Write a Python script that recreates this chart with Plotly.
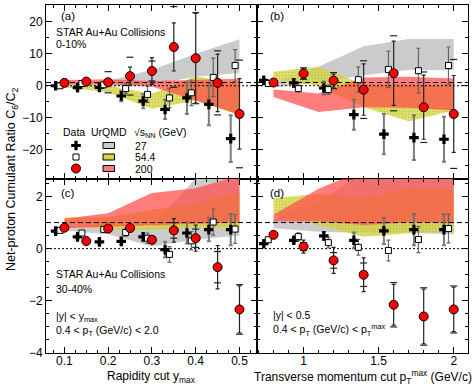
import plotly.graph_objects as go
from plotly.subplots import make_subplots

# rapidity cut (panels a, c) and pT max cut (panels b, d)
ymax = [0.1, 0.15, 0.2, 0.25, 0.3, 0.35, 0.4, 0.45, 0.5]
ptmax = [0.8, 1.0, 1.2, 1.4, 1.6, 1.8, 2.0]

# panel (a): 0-10%, C6/C2 vs y_max
a_27 = [0.0, -0.6, -0.5, -3.2, -4.8, -7.4, -3.8, -5.8, -16.5]
a_27_err = [0.4, 0.6, 0.9, 1.6, 2.2, 3.0, 5.0, 6.5, 7.3]
a_54 = [0.0, 0.7, 0.3, -0.9, -2.7, -3.8, -2.2, 2.6, 6.3]
a_54_err = [0.4, 0.6, 0.9, 1.5, 2.5, 3.0, 4.0, 6.0, 5.0]
a_200 = [0.9, 1.3, 1.1, 3.0, 4.6, 12.1, 8.6, 0.9, -8.8]
a_200_err = [0.4, 0.7, 1.0, 2.8, 4.2, 7.5, 14.0, 9.0, 11.0]
a_200_sys = [0.3, 0.6, 3.3, 5.9, 3.1, 12.6, 14.2, 10.0, 16.8]

# panel (b): 0-10%, C6/C2 vs pT max
b_27 = [1.7, 0.9, -0.7, -9.0, -15.1, -16.2, -16.7]
b_27_err = [0.5, 1.2, 2.0, 4.7, 6.3, 7.0, 7.0]
b_54 = [0.7, -0.9, -1.2, 1.9, 5.1, 4.7, 6.3]
b_54_err = [0.4, 1.0, 1.5, 4.0, 5.7, 7.0, 5.8]
b_200 = [1.0, 3.8, 1.6, -1.2, 3.9, -6.7, -8.8]
b_200_err = [0.5, 1.5, 2.0, 8.0, 10.0, 10.0, 12.0]
b_200_sys = [0.3, 1.8, 2.5, 9.0, 11.7, 11.0, 17.0]

# panel (c): 30-40%
c_27 = [0.67, 0.45, 0.26, 0.28, 0.45, -0.04, 0.6, 0.73, 0.73]
c_27_err = [0.05, 0.07, 0.1, 0.12, 0.15, 0.3, 0.4, 0.45, 0.6]
c_54 = [0.7, 0.6, 0.74, 0.62, 0.4, -0.22, 0.3, 1.02, 0.75]
c_54_err = [0.05, 0.08, 0.1, 0.15, 0.2, 0.3, 0.35, 0.5, 0.55]
c_200 = [0.8, 0.29, 0.77, 0.79, 0.34, 0.7, 0.4, -0.71, -2.33]
c_200_err = [0.05, 0.08, 0.1, 0.12, 0.15, 0.45, 0.5, 0.83, 0.9]
c_200_sys = [0.03, 0.05, 0.08, 0.1, 0.12, 0.3, 0.35, 0.6, 0.95]

# panel (d): 30-40%
d_27 = [0.19, 0.32, 0.49, 0.32, 0.68, 0.73, 0.73]
d_27_err = [0.05, 0.1, 0.15, 0.3, 0.5, 0.6, 0.6]
d_54 = [0.34, 0.46, 0.23, 0.05, -0.07, 0.35, 0.77]
d_54_err = [0.05, 0.15, 0.2, 0.3, 0.4, 0.5, 0.55]
d_200 = [0.53, 0.08, -0.45, -1.0, -2.15, -2.6, -2.33]
d_200_err = [0.05, 0.25, 0.5, 0.65, 0.78, 1.05, 0.85]
d_200_sys = [0.03, 0.15, 0.3, 0.45, 0.85, 1.1, 0.9]

# UrQMD bands
band_y = [0.1, 0.2, 0.3, 0.4, 0.5]
band_pt = [0.8, 1.1, 1.4, 1.7, 2.0]

a_u27_lo = [-0.3, -0.3, 0.3, 2.8, 4.0]
a_u27_hi = [0.5, 1.5, 5.0, 10.0, 14.5]
a_u54_lo = [-0.5, -2.0, -7.2, -4.6, -9.2]
a_u54_hi = [0.3, 0.0, -2.5, 3.0, 0.3]
a_u200_lo = [0.5, 0.5, -0.2, -4.6, -9.0]
a_u200_hi = [1.8, 2.0, 1.5, 1.8, 2.2]

b_u27_lo = [-0.5, 1.0, 3.3, 4.9, 4.8]
b_u27_hi = [1.0, 5.9, 12.3, 14.6, 14.6]
b_u54_lo = [1.7, 0.1, -6.7, -11.1, -7.7]
b_u54_hi = [4.4, 5.9, 0.5, 0.3, 0.3]
b_u200_lo = [-3.5, -8.2, -6.7, -6.9, -7.7]
b_u200_hi = [-1.2, -2.4, 2.6, 2.8, 2.3]

c_u27_lo = [0.7, 0.55, 0.08, 0.35, 0.5]
c_u27_hi = [0.9, 0.85, 0.85, 2.7, 3.0]
c_u54_lo = [0.95, 0.72, 0.72, 0.8, 0.8]
c_u54_hi = [1.2, 1.2, 1.49, 1.74, 2.19]
c_u200_lo = [0.78, 0.85, 0.9, 0.95, 1.0]
c_u200_hi = [1.15, 1.36, 2.13, 2.32, 2.8]

d_u27_lo = [0.78, 0.65, 0.6, 0.6, 0.55]
d_u27_hi = [1.1, 1.8, 2.9, 2.9, 2.9]
d_u54_lo = [1.29, 0.9, 0.46, 0.59, 0.65]
d_u54_hi = [1.93, 2.1, 1.93, 2.32, 2.25]
d_u200_lo = [1.04, 1.04, 0.91, 1.0, 0.97]
d_u200_hi = [1.3, 2.3, 3.0, 3.0, 3.0]

energies = ['27', '54.4', '200']

W, H = 474, 386
ML, MR, MT, MB = 46, 6, 5, 33
XR_Y = [0.058, 0.54]
XR_PT = [0.69, 2.095]
YR_TOP = [-29.1, 25.2]
YR_BOT = [-4, 2.67]
FONT = 'Liberation Sans, Arial, Helvetica, sans-serif'

GRAY = 'rgba(200,200,200,0.95)'
YEL_BG = 'rgba(215,215,70,0.78)'
YEL_FG = 'rgba(175,175,30,0.9)'
RED = 'rgba(255,75,70,0.72)'

fig = make_subplots(rows=2, cols=2, shared_xaxes=True, shared_yaxes=True,
                    horizontal_spacing=0, vertical_spacing=0)


def band(x, lo, hi, kind, row, col):
    xs = list(x) + list(x)[::-1]
    ys = list(hi) + list(lo)[::-1]
    kw = dict(x=xs, y=ys, fill='toself', mode='lines', line=dict(width=0),
              showlegend=False, hoverinfo='skip')
    if kind == 'gray':
        kw['fillcolor'] = GRAY
    elif kind == 'yellow':
        kw['fillcolor'] = YEL_BG
        kw['fillpattern'] = dict(shape='.', fgcolor=YEL_FG, bgcolor=YEL_BG, size=3, solidity=0.35)
    else:
        kw['fillcolor'] = RED
    fig.add_trace(go.Scatter(**kw), row=row, col=col)


def refline(xr, row, col):
    fig.add_trace(go.Scatter(x=xr, y=[0, 0], mode='lines', showlegend=False, hoverinfo='skip',
                             line=dict(color='black', width=1, dash='2px,2px')), row=row, col=col)
    fig.add_trace(go.Scatter(x=xr, y=[1, 1], mode='lines', showlegend=False, hoverinfo='skip',
                             line=dict(color='black', width=1, dash='5px,3px')), row=row, col=col)


def marker_style(kind):
    if kind == 'cross':
        return dict(symbol='cross', size=8, color='black', line=dict(width=0))
    if kind == 'square':
        return dict(symbol='square', size=6, color='white', line=dict(color='black', width=1))
    return dict(symbol='circle', size=9, color='#ff0000', line=dict(color='black', width=1))


def points(x, y, err, kind, row, col):
    if kind == 'cross':
        eb = dict(type='data', array=err, color='rgba(110,110,110,0.9)', thickness=2, width=2)
    elif kind == 'square':
        eb = dict(type='data', array=err, color='rgba(90,90,90,0.9)', thickness=1.2, width=2)
    else:
        eb = dict(type='data', array=err, color='#222222', thickness=1.2, width=2)
    fig.add_trace(go.Scatter(x=x, y=y, mode='markers', marker=marker_style(kind), error_y=eb,
                             showlegend=False), row=row, col=col)


def sys_caps(x, y, sys, row, col):
    # systematic uncertainty brackets above and below the point
    ys = [v + s for v, s in zip(y, sys)] + [v - s for v, s in zip(y, sys)]
    fig.add_trace(go.Scatter(x=list(x) * 2, y=ys, mode='markers', showlegend=False,
                             hoverinfo='skip',
                             marker=dict(symbol='line-ew', size=5,
                                         line=dict(color='#222222', width=1.2))),
                  row=row, col=col)


panels = [
    (1, 1, ymax, band_y, XR_Y, 0.02, 0.01,
     (a_27, a_27_err, a_54, a_54_err, a_200, a_200_err, a_200_sys),
     (a_u27_lo, a_u27_hi, a_u54_lo, a_u54_hi, a_u200_lo, a_u200_hi)),
    (1, 2, ptmax, band_pt, XR_PT, 0.065, 0.035,
     (b_27, b_27_err, b_54, b_54_err, b_200, b_200_err, b_200_sys),
     (b_u27_lo, b_u27_hi, b_u54_lo, b_u54_hi, b_u200_lo, b_u200_hi)),
    (2, 1, ymax, band_y, XR_Y, 0.02, 0.01,
     (c_27, c_27_err, c_54, c_54_err, c_200, c_200_err, c_200_sys),
     (c_u27_lo, c_u27_hi, c_u54_lo, c_u54_hi, c_u200_lo, c_u200_hi)),
    (2, 2, ptmax, band_pt, XR_PT, 0.065, 0.035,
     (d_27, d_27_err, d_54, d_54_err, d_200, d_200_err, d_200_sys),
     (d_u27_lo, d_u27_hi, d_u54_lo, d_u54_hi, d_u200_lo, d_u200_hi)),
]

for row, col, xv, bx, xr, off27, off54, dat, bands in panels:
    band(bx, bands[0], bands[1], 'gray', row, col)
    band(bx, bands[2], bands[3], 'yellow', row, col)
    band(bx, bands[4], bands[5], 'red', row, col)
    refline(xr, row, col)
    sys_caps(xv, dat[4], dat[6], row, col)
    points([v - off27 for v in xv], dat[0], dat[1], 'cross', row, col)
    points([v - off54 for v in xv], dat[2], dat[3], 'square', row, col)
    points(xv, dat[4], dat[5], 'circle', row, col)


def px(x):
    return (x - ML) / (W - ML - MR)


def py(y):
    return (H - MB - y) / (H - MT - MB)


def to_a(xp, yp):
    # pixel position -> data coordinates of panel (a)
    fx = (xp - ML) / ((W - ML - MR) / 2)
    fy = (yp - MT) / ((H - MT - MB) / 2)
    return (XR_Y[0] + fx * (XR_Y[1] - XR_Y[0]), YR_TOP[1] - fy * (YR_TOP[1] - YR_TOP[0]))


# legend keys in panel (a)
leg_rows = [145.5, 157, 168.5]
for kind, ypx in zip(['cross', 'square', 'circle'], leg_rows):
    lx, ly = to_a(76, ypx)
    fig.add_trace(go.Scatter(x=[lx], y=[ly], mode='markers', marker=marker_style(kind),
                             showlegend=False, hoverinfo='skip'), row=1, col=1)

box_fill = [GRAY, 'rgba(215,215,70,1)', 'rgba(250,125,120,1)']
for fc, ypx in zip(box_fill, leg_rows):
    fig.add_shape(type='rect', xref='paper', yref='paper',
                  x0=px(103), x1=px(114.5), y0=py(ypx + 3), y1=py(ypx - 3),
                  fillcolor=fc, line=dict(color='black', width=1))

ann = []


def txt(s, x, y, size=10.5, anchor='left', angle=0):
    ann.append(dict(text=s, x=px(x), y=py(y), xref='paper', yref='paper', showarrow=False,
                    xanchor=anchor, yanchor='middle', textangle=angle,
                    font=dict(family=FONT, size=size, color='black')))


txt('(a)', 59, 16, 11.5)
txt('STAR Au+Au Collisions', 54, 32)
txt('0-10%', 54, 44)
txt('(b)', 268, 16, 11.5)
txt('(c)', 59, 193, 11.5)
txt('STAR Au+Au Collisions', 54, 274)
txt('30-40%', 54, 289)
txt('|y| < y<sub>max</sub>', 54, 317)
txt('0.4 < p<sub>T</sub> (GeV/c) < 2.0', 54, 331)
txt('(d)', 268, 193, 11.5)
txt('|y| < 0.5', 271, 315)
txt('0.4 < p<sub>T</sub> (GeV/c) < p<sub>T</sub><sup>max</sup>', 271, 330)

txt('Data', 74, 132, anchor='center')
txt('UrQMD', 109, 132, anchor='center')
txt('√s<sub>NN</sub> (GeV)', 132, 133)
for e, ypx in zip(energies, leg_rows):
    txt(e, 133, ypx)

txt('Rapidity cut y<sub>max</sub>', 151, 377, 12, anchor='center')
txt('Transverse momentum cut p<sub>T</sub><sup>max</sup> (GeV/c)', 363, 377, 12, anchor='center')
txt('Net-proton Cumulant Ratio C<sub>6</sub>/C<sub>2</sub>', 12, 179, 12.5, anchor='center', angle=-90)

ax_common = dict(showline=True, linecolor='black', linewidth=1, mirror='allticks',
                 ticks='inside', ticklen=6, tickwidth=1, tickcolor='black',
                 showgrid=False, zeroline=False,
                 tickfont=dict(family=FONT, size=12, color='black'))

fig.update_xaxes(ax_common)
fig.update_yaxes(ax_common)

for c in (1, 2):
    fig.update_xaxes(range=XR_Y if c == 1 else XR_PT, row=1, col=c, showticklabels=False)
    fig.update_xaxes(range=XR_Y if c == 1 else XR_PT, row=2, col=c, showticklabels=True,
                     ticklabelstandoff=-3)
fig.update_xaxes(dtick=0.1, tick0=0, minor=dict(dtick=0.025, ticklen=3, ticks='inside', tickcolor='black'), col=1)
fig.update_xaxes(dtick=0.5, tick0=0, minor=dict(dtick=0.1, ticklen=3, ticks='inside', tickcolor='black'), col=2)

fig.update_yaxes(range=YR_TOP, dtick=10, tick0=0,
                 minor=dict(dtick=5, ticklen=3, ticks='inside', tickcolor='black'), row=1)
fig.update_yaxes(range=YR_BOT, dtick=2, tick0=0,
                 minor=dict(dtick=0.5, ticklen=3, ticks='inside', tickcolor='black'), row=2)
fig.update_yaxes(showticklabels=False, col=2)
fig.update_yaxes(showticklabels=True, col=1)

fig.update_layout(width=W, height=H, margin=dict(l=ML, r=MR, t=MT, b=MB),
                  plot_bgcolor='white', paper_bgcolor='white', showlegend=False,
                  annotations=ann, font=dict(family=FONT, color='black'))

# the page body keeps its default 8px margin otherwise
fig.write_html('out.html', config={'displayModeBar': False},
               post_script="document.body.style.margin='0';")
